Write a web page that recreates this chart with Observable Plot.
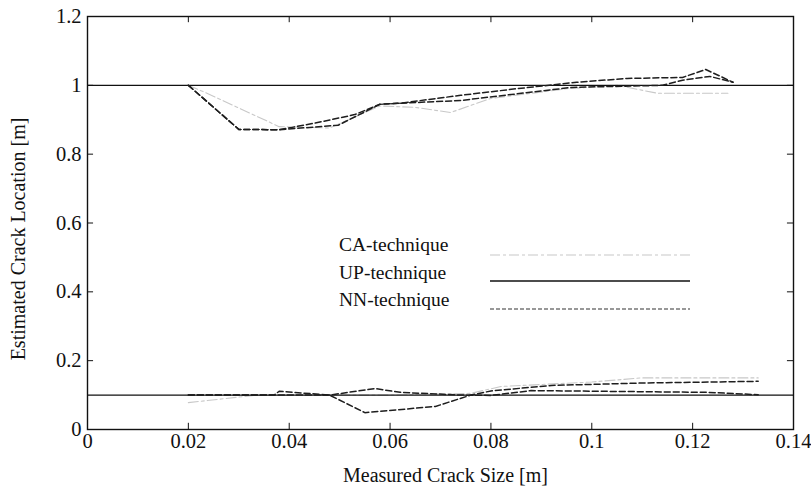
<!DOCTYPE html>
<html><head><meta charset="utf-8">
<script src="https://cdn.jsdelivr.net/npm/d3@7"></script>
<script src="https://cdn.jsdelivr.net/npm/@observablehq/plot@0.6"></script>
<style>
body{margin:0;background:#fff;}
#wrap{position:relative;width:811px;height:488px;font-family:"Liberation Serif","DejaVu Serif",serif;color:#111;}
.lg{position:absolute;font-size:19.5px;line-height:1;white-space:nowrap;}
.ls{position:absolute;}
svg text{font-family:"Liberation Serif","DejaVu Serif",serif !important;}
</style></head><body><div id="wrap"></div>
<script>
// Tick values
const xTicks = [0, 0.02, 0.04, 0.06, 0.08, 0.1, 0.12, 0.14];
const yTicks = [0, 0.2, 0.4, 0.6, 0.8, 1, 1.2];

// True crack locations (solid, UP-technique)
const refLevels = [1.0, 0.1];

// Upper crack (around 1 m)
const nnA_top_x = [0.02,0.03,0.038,0.045,0.053,0.058,0.062,0.074,0.085,0.097,0.107,0.118,0.1226,0.128];
const nnA_top_y = [1.0,0.872,0.871,0.89,0.915,0.945,0.948,0.971,0.99,1.009,1.02,1.023,1.046,1.009];
const nnB_top_x = [0.02,0.03,0.038,0.0497,0.058,0.062,0.074,0.085,0.096,0.114,0.118,0.1234,0.128];
const nnB_top_y = [1.0,0.872,0.871,0.884,0.945,0.948,0.956,0.975,0.994,1.0,1.015,1.026,1.009];
const ca_top_x = [0.02,0.024,0.038,0.048,0.058,0.065,0.072,0.08,0.095,0.105,0.113,0.127];
const ca_top_y = [1.0,0.975,0.88,0.876,0.94,0.936,0.921,0.962,0.99,1.0,0.977,0.977];

// Lower crack (around 0.1 m)
const nnA_bot_x = [0.02,0.037,0.038,0.048,0.055,0.069,0.076,0.08,0.092,0.11,0.133];
const nnA_bot_y = [0.1,0.1,0.111,0.1,0.049,0.067,0.1,0.112,0.128,0.135,0.14];
const nnB_bot_x = [0.02,0.048,0.057,0.062,0.074,0.08,0.088,0.123,0.133];
const nnB_bot_y = [0.1,0.1,0.119,0.108,0.1,0.099,0.113,0.108,0.101];
const ca_bot_x = [0.02,0.033,0.048,0.06,0.076,0.082,0.1,0.11,0.133];
const ca_bot_y = [0.078,0.099,0.1,0.1,0.105,0.125,0.138,0.15,0.15];

const zip = (xs, ys, s) => xs.map((x, i) => ({x, y: ys[i], s}));
const nnData = [...zip(nnA_top_x, nnA_top_y, "a1"), ...zip(nnB_top_x, nnB_top_y, "b1"),
                ...zip(nnA_bot_x, nnA_bot_y, "a2"), ...zip(nnB_bot_x, nnB_bot_y, "b2")];
const caData = [...zip(ca_top_x, ca_top_y, "c1"), ...zip(ca_bot_x, ca_bot_y, "c2")];

const font = `"Liberation Serif","DejaVu Serif",serif`;
const chart = Plot.plot({
  width: 811, height: 488,
  marginLeft: 87, marginRight: 18, marginTop: 16, marginBottom: 59,
  style: {fontFamily: font, fontSize: "20px", color: "#111", background: "#fff"},
  x: {domain: [0, 0.14], ticks: xTicks},
  y: {domain: [0, 1.2], ticks: yTicks},
  marks: [
    Plot.axisX(xTicks, {tickSize: 0, tickPadding: 4, label: null, fontSize: 20.5, fontFamily: font, tickFormat: d3.format("")}),
    Plot.axisY(yTicks, {tickSize: 0, tickPadding: 6, label: null, fontSize: 20.5, fontFamily: font, tickFormat: d3.format("")}),
    Plot.line(caData, {x: "x", y: "y", z: "s", stroke: "#c8c8c8", strokeWidth: 1.1, strokeDasharray: "10,3,3,3"}),
    Plot.ruleY(refLevels, {stroke: "#111", strokeWidth: 1.3}),
    Plot.line(nnData, {x: "x", y: "y", z: "s", stroke: "#1e1e1e", strokeWidth: 1.5, strokeDasharray: "6,3"}),
    Plot.ruleX(xTicks, {x: d => d, y1: 0, y2: 0.018, stroke: "#111"}),
    Plot.ruleX(xTicks, {x: d => d, y1: 1.2, y2: 1.182, stroke: "#111"}),
    Plot.ruleY(yTicks, {y: d => d, x1: 0, x2: 0.0012, stroke: "#111"}),
    Plot.ruleY(yTicks, {y: d => d, x1: 0.14, x2: 0.1388, stroke: "#111"}),
    Plot.frame({stroke: "#111", strokeWidth: 1.4}),
    Plot.text(["Measured Crack Size [m]"], {frameAnchor: "bottom", dy: 46, text: d => d, fontSize: 20, fontFamily: font, lineAnchor: "middle", textAnchor: "middle", dx: 5}),
    Plot.text(["Estimated Crack Location [m]"], {frameAnchor: "left", dx: -69, dy: 16, text: d => d, rotate: -90, fontSize: 20, fontFamily: font, lineAnchor: "middle", textAnchor: "middle"})
  ]
});
const wrap = document.getElementById("wrap");
wrap.appendChild(chart);

// Legend overlay
const legendItems = [
  {label: "CA-technique", stroke: "#c8c8c8", dash: "10,3,3,3", w: 1.1},
  {label: "UP-technique", stroke: "#111", dash: null, w: 1.4},
  {label: "NN-technique", stroke: "#333", dash: "4,2", w: 1.1}
];
const textTops = [235, 263, 290];
const lineYs = [255, 281, 309];
legendItems.forEach((it, i) => {
  const t = document.createElement("div");
  t.className = "lg"; t.textContent = it.label;
  t.style.left = "339px"; t.style.top = textTops[i] + "px";
  wrap.appendChild(t);
  const svg = document.createElementNS("http://www.w3.org/2000/svg", "svg");
  svg.setAttribute("class", "ls"); svg.setAttribute("width", 202); svg.setAttribute("height", 6);
  svg.style.left = "489px"; svg.style.top = (lineYs[i] - 3) + "px";
  const ln = document.createElementNS("http://www.w3.org/2000/svg", "line");
  ln.setAttribute("x1", 1); ln.setAttribute("x2", 201); ln.setAttribute("y1", 3); ln.setAttribute("y2", 3);
  ln.setAttribute("stroke", it.stroke); ln.setAttribute("stroke-width", it.w);
  if (it.dash) ln.setAttribute("stroke-dasharray", it.dash);
  svg.appendChild(ln); wrap.appendChild(svg);
});
</script></body></html>
